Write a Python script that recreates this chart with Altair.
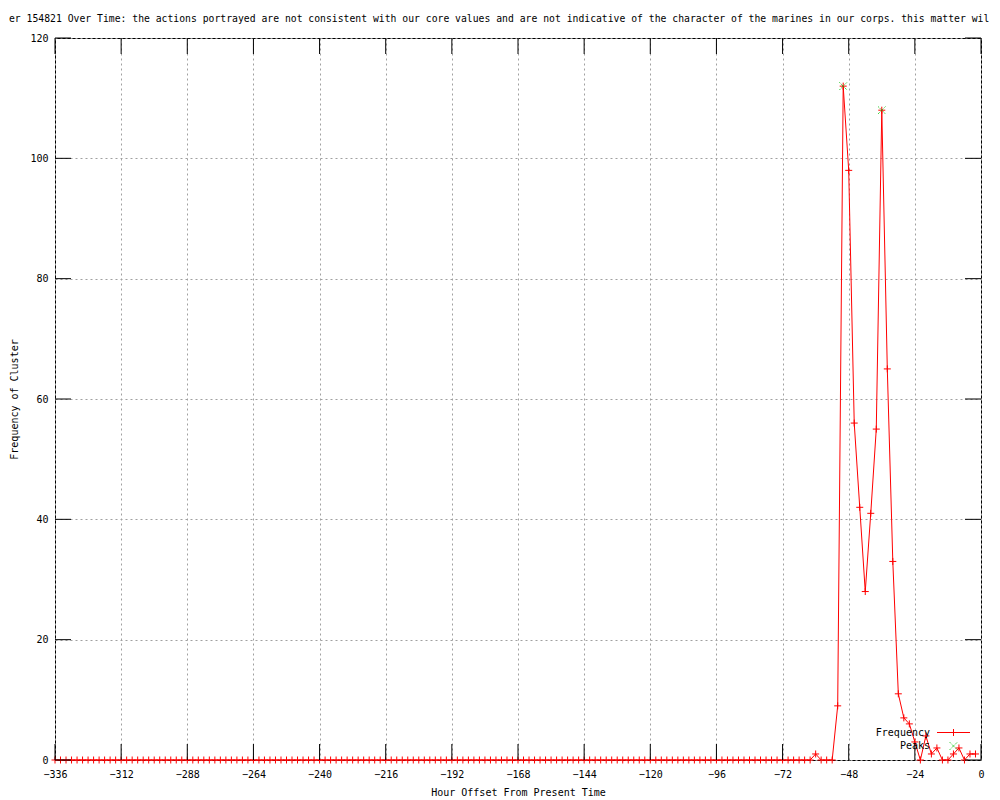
import altair as alt
import pandas as pd

# ---- data -------------------------------------------------------------
hours = list(range(-336, 0, 2))
freq = [0] * 138 + [
    1, 0, 0, 0, 9, 112, 98, 56, 42, 28, 41, 55, 108, 65, 33, 11, 7, 6, 3, 0,
    4, 1, 2, 0, 0, 1, 2, 0, 1, 1,
]
peak_hours = [-50, -36]
peak_freq = [112, 108]
x_ticks = list(range(-336, 1, 24))
y_ticks = list(range(0, 121, 20))

# the part of the (over-long) title that is visible in the picture
TITLE = ("er 154821 Over Time: the actions portrayed are not "
         "consistent with our core values and are not indicative of the character "
         "of the marines in our corps. this matter wil")

df = pd.DataFrame({"hour": hours, "freq": freq})
peaks = pd.DataFrame({"hour": peak_hours, "freq": peak_freq})
xt = pd.DataFrame({"hour": x_ticks})
yt = pd.DataFrame({"freq": y_ticks})

W, H = 926, 722
FONT = "DejaVu Sans Mono"
PLUS = "M-1,0L1,0M0,-1L0,1"
XMARK = "M-1,-1L1,1M-1,1L1,-1"

xscale = alt.Scale(domain=[-336, 0], nice=False, zero=False)
yscale = alt.Scale(domain=[0, 120], nice=False)

xaxis = alt.Axis(values=x_ticks, title="Hour Offset From Present Time",
                 grid=True, ticks=False, domain=False, labelPadding=9,
                 titlePadding=8, labelFlush=False)
yaxis = alt.Axis(values=y_ticks, title="Frequency of Cluster",
                 grid=True, ticks=False, domain=False, labelPadding=7,
                 titlePadding=10)

line = alt.Chart(df).mark_line(color="#ff0000", strokeWidth=1).encode(
    x=alt.X("hour:Q", scale=xscale, axis=xaxis),
    y=alt.Y("freq:Q", scale=yscale, axis=yaxis),
)
pts = alt.Chart(df).mark_point(shape=PLUS, size=49, color="#ff0000",
                               filled=False, strokeWidth=1, opacity=1).encode(
    x=alt.X("hour:Q", scale=xscale),
    y=alt.Y("freq:Q", scale=yscale),
)
pk = alt.Chart(peaks).mark_point(shape=XMARK, size=56, stroke="#00c000",
                                 filled=False, strokeWidth=1, opacity=1,
                                 strokeDash=[1, 1]).encode(
    x=alt.X("hour:Q", scale=xscale),
    y=alt.Y("freq:Q", scale=yscale),
)

TL = 16
xt_bot = alt.Chart(xt).mark_rule(color="black", strokeWidth=1).encode(
    x=alt.X("hour:Q", scale=xscale), y=alt.value(H), y2=alt.value(H - TL))
xt_top = alt.Chart(xt).mark_rule(color="black", strokeWidth=1).encode(
    x=alt.X("hour:Q", scale=xscale), y=alt.value(0), y2=alt.value(TL))
yt_left = alt.Chart(yt).mark_rule(color="black", strokeWidth=1).encode(
    y=alt.Y("freq:Q", scale=yscale), x=alt.value(0), x2=alt.value(TL))
yt_right = alt.Chart(yt).mark_rule(color="black", strokeWidth=1).encode(
    y=alt.Y("freq:Q", scale=yscale), x=alt.value(W), x2=alt.value(W - TL))

title = alt.Chart(pd.DataFrame({"t": [TITLE]})).mark_text(
    align="left", baseline="middle", font=FONT, fontSize=9.75, color="black"
).encode(text="t:N", x=alt.value(-46), y=alt.value(-19.5))

# manual legend (gnuplot style: label left of sample)
leg_txt1 = alt.Chart(pd.DataFrame({"t": ["Frequency"]})).mark_text(
    align="right", baseline="middle", font=FONT, fontSize=10, color="black"
).encode(text="t:N", x=alt.value(875), y=alt.value(695))
leg_txt2 = alt.Chart(pd.DataFrame({"t": ["Peaks"]})).mark_text(
    align="right", baseline="middle", font=FONT, fontSize=10, color="black"
).encode(text="t:N", x=alt.value(875), y=alt.value(708))
leg_line = alt.Chart(pd.DataFrame({"t": ["Frequency"]})).mark_rule(
    color="#ff0000", strokeWidth=1
).encode(x=alt.value(882), x2=alt.value(915), y=alt.value(694.5))
leg_plus = alt.Chart(pd.DataFrame({"t": ["Frequency"]})).mark_point(
    shape=PLUS, size=49, color="#ff0000", filled=False, strokeWidth=1, opacity=1
).encode(x=alt.value(898.5), y=alt.value(694.5))
leg_x = alt.Chart(pd.DataFrame({"t": ["Peaks"]})).mark_point(
    shape=XMARK, size=56, stroke="#00c000", filled=False, strokeWidth=1,
    opacity=1, strokeDash=[1, 1]
).encode(x=alt.value(898.5), y=alt.value(708))

chart = alt.layer(
    line, pts, pk, xt_bot, xt_top, yt_left, yt_right, title,
    leg_txt1, leg_txt2, leg_line, leg_plus, leg_x,
).properties(
    width=W, height=H,
    autosize=alt.AutoSizeParams(type="none"),
    padding={"left": 47, "top": 30, "right": 11, "bottom": 38},
).configure_view(
    stroke="black", strokeWidth=1
).configure_axis(
    labelFont=FONT, labelFontSize=10, labelColor="black",
    titleFont=FONT, titleFontSize=10, titleFontWeight="normal", titleColor="black",
    gridColor="#a0a0a0", gridDash=[2, 3], gridWidth=1, gridOpacity=1,
)

chart.save("out.html", embed_options={"renderer": "svg", "actions": False})
